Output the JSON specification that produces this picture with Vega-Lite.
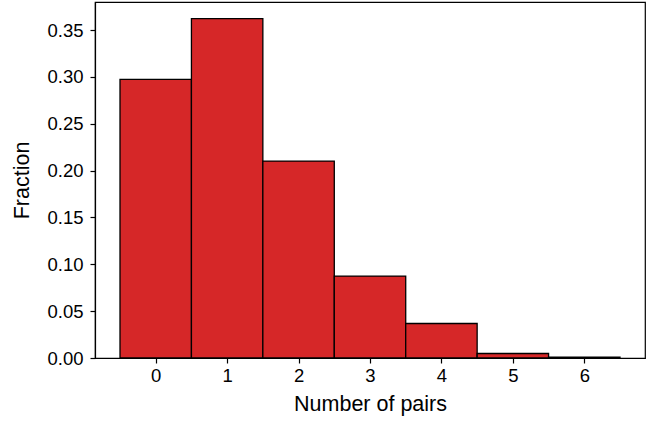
{
  "$schema": "https://vega.github.io/schema/vega-lite/v6.json",
  "width": 550,
  "height": 356,
  "autosize": {"type": "none"},
  "padding": {"left": 95, "top": 2, "right": 10, "bottom": 66},
  "background": "white",
  "config": {
    "view": {"stroke": "black", "strokeWidth": 1.2},
    "font": "Liberation Sans",
    "axis": {
      "grid": false,
      "domainColor": "black",
      "domainWidth": 1.2,
      "tickColor": "black",
      "tickWidth": 1.2,
      "tickSize": 5,
      "labelColor": "black",
      "titleColor": "black",
      "labelFontSize": 18.5,
      "titleFontSize": 21.5,
      "titleFontWeight": "normal",
      "labelFont": "Liberation Sans",
      "titleFont": "Liberation Sans"
    }
  },
  "data": {
    "values": [
      {"pairs": 0, "fraction": 0.2975},
      {"pairs": 1, "fraction": 0.3622},
      {"pairs": 2, "fraction": 0.2102},
      {"pairs": 3, "fraction": 0.0875},
      {"pairs": 4, "fraction": 0.0368},
      {"pairs": 5, "fraction": 0.0048},
      {"pairs": 6, "fraction": 0.0010}
    ]
  },
  "transform": [
    {"calculate": "datum.pairs - 0.5", "as": "lo"},
    {"calculate": "datum.pairs + 0.5", "as": "hi"}
  ],
  "mark": {"type": "rect", "fill": "#d62728", "stroke": "black", "strokeWidth": 1.3},
  "encoding": {
    "x": {
      "field": "lo",
      "type": "quantitative",
      "scale": {"domain": [-0.85, 6.85], "nice": false, "zero": false},
      "axis": {"values": [0, 1, 2, 3, 4, 5, 6], "title": "Number of pairs", "labelPadding": 3, "titlePadding": 9, "format": "d"}
    },
    "x2": {"field": "hi"},
    "y": {
      "field": "fraction",
      "type": "quantitative",
      "scale": {"domain": [0, 0.38], "nice": false},
      "axis": {"values": [0, 0.05, 0.1, 0.15, 0.2, 0.25, 0.3, 0.35], "format": ".2f", "title": "Fraction", "labelPadding": 7, "titlePadding": 13}
    },
    "y2": {"datum": 0}
  }
}
